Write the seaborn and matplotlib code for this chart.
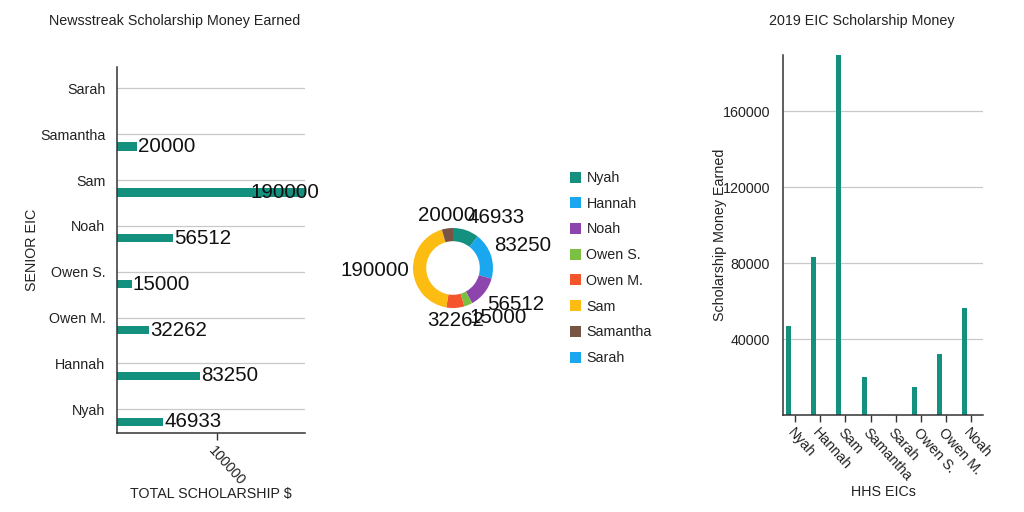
import matplotlib
matplotlib.use('Agg')
import matplotlib.pyplot as plt
import seaborn as sns
import numpy as np
import pandas as pd

sns.set_theme(style='white')
plt.rcParams['font.family'] = ['Liberation Sans', 'DejaVu Sans']

# ---------------- data ----------------
left_names = ['Sarah', 'Samantha', 'Sam', 'Noah', 'Owen S.', 'Owen M.', 'Hannah', 'Nyah']
left_values = [0, 20000, 190000, 56512, 15000, 32262, 83250, 46933]

donut_names = ['Nyah', 'Hannah', 'Noah', 'Owen S.', 'Owen M.', 'Sam', 'Samantha', 'Sarah']
donut_values = [46933, 83250, 56512, 15000, 32262, 190000, 20000, 0]
donut_colors = ['#14917e', '#1aa7ef', '#8e44ad', '#7ac143', '#f4552a', '#fcbc12', '#785444', '#1aa7ef']

right_names = ['Nyah', 'Hannah', 'Sam', 'Samantha', 'Sarah', 'Owen S.', 'Owen M.', 'Noah']
right_values = [46933, 83250, 190000, 20000, 0, 15000, 32262, 56512]

teal = '#14917e'
txt = '#222222'
spine_c = '#333333'
grid_c = '#c9c9c9'
small = 10.3
big = 14.8

W, H = 1024, 512
fig = plt.figure(figsize=(W / 100, H / 100), dpi=100)


def rect(l, t, r, b):
    return [l / W, 1 - b / H, (r - l) / W, (b - t) / H]


# ---------------- left horizontal bar chart ----------------
ax1 = fig.add_axes(rect(116.5, 66.7, 305, 432.7))
df1 = pd.DataFrame({'name': left_names, 'value': left_values})
sns.barplot(data=df1, y='name', x='value', orient='h', color=teal, width=0.18,
            saturation=1, linewidth=0, ax=ax1)
xmax = 188500
ax1.set_xlim(0, xmax)
ax1.set_ylim(7.24, -0.743)
pos = np.arange(len(left_names))
ax1.set_yticks(pos - 0.27, left_names)
ax1.set_xticks([100000], ['100000'])
ax1.grid(axis='y', color=grid_c, lw=0.9)
ax1.grid(axis='x', visible=False)
ax1.set_axisbelow(True)
for s in ['top', 'right']:
    ax1.spines[s].set_visible(False)
for s in ['left', 'bottom']:
    ax1.spines[s].set_color(spine_c)
    ax1.spines[s].set_linewidth(1.1)
ax1.tick_params(axis='y', length=0, pad=8, labelsize=small, labelcolor=txt)
ax1.tick_params(axis='x', length=5, width=1, color=spine_c, direction='out',
                pad=3, labelsize=small, labelcolor=txt, bottom=True)
for lab in ax1.get_xticklabels():
    lab.set_rotation(-48)
    lab.set_ha('left')
    lab.set_va('top')
    lab.set_rotation_mode('anchor')
vlabels = ax1.bar_label(ax1.containers[0], labels=[str(v) if v else '' for v in left_values],
                        padding=1, fontsize=big, color='#111111')
for t, v in zip(vlabels, left_values):
    t.set_annotation_clip(False)
    t.set_clip_on(False)
    if v > xmax:
        # label pulled back so it overlaps the end of the bar, as in the reference
        t.set_ha('right')
        t.xyann = (9, 0)
ax1.set_xlabel('TOTAL SCHOLARSHIP $', fontsize=small, color=txt, va='center')
ax1.xaxis.set_label_coords(0.5, -(494 - 432.7) / 366)
ax1.set_ylabel('SENIOR EIC', fontsize=small, color=txt, va='center', ha='center')
ax1.yaxis.set_label_coords(-(116.5 - 32) / 188.5, 0.5)
fig.text(175 / W, 1 - 21 / H, 'Newsstreak Scholarship Money Earned',
         ha='center', va='center', fontsize=small, color=txt)

# ---------------- donut ----------------
ax2 = fig.add_axes(rect(353, 168, 553, 368))
wedges, texts = ax2.pie(donut_values, colors=donut_colors, startangle=90, counterclock=False,
                        labels=[str(v) if v else '' for v in donut_values], labeldistance=1.08,
                        wedgeprops=dict(width=0.33, edgecolor='none', linewidth=0),
                        textprops=dict(fontsize=big, color='#111111'))
for w, t in zip(wedges, texts):
    ang = np.deg2rad((w.theta1 + w.theta2) / 2)
    x, y = np.cos(ang), np.sin(ang)
    t.set_ha('center' if abs(x) < 0.3 else ('left' if x > 0 else 'right'))
    t.set_va('bottom' if y > 0.3 else ('top' if y < -0.3 else 'center'))
ax2.set_xlim(-2.5, 2.5)
ax2.set_ylim(-2.5, 2.5)
ax2.set_aspect('equal')
ax2.axis('off')
ax2.legend(wedges, donut_names, loc='upper left', bbox_to_anchor=(570 / W, 1 - 171 / H),
           bbox_transform=fig.transFigure, frameon=False, fontsize=small,
           handlelength=0.8, handleheight=0.8, handletextpad=0.35, labelspacing=0.82,
           borderpad=0, borderaxespad=0, labelcolor=txt)

# ---------------- right vertical bar chart ----------------
ax3 = fig.add_axes(rect(782.7, 55, 983.3, 415))
df3 = pd.DataFrame({'name': right_names, 'value': right_values})
sns.barplot(data=df3, x='name', y='value', color=teal, width=0.2, saturation=1,
            linewidth=0, ax=ax3)
ax3.set_xlim(-0.23, 7.73)
ax3.set_ylim(0, 189500)
ax3.set_yticks([40000, 80000, 120000, 160000], ['40000', '80000', '120000', '160000'])
ax3.set_xticks(np.arange(len(right_names)) + 0.26, right_names)
ax3.grid(axis='y', color=grid_c, lw=0.9)
ax3.grid(axis='x', visible=False)
ax3.set_axisbelow(True)
for s in ['top', 'right']:
    ax3.spines[s].set_visible(False)
for s in ['left', 'bottom']:
    ax3.spines[s].set_color(spine_c)
    ax3.spines[s].set_linewidth(1.1)
ax3.tick_params(axis='y', length=0, pad=9, labelsize=small, labelcolor=txt)
ax3.tick_params(axis='x', length=5, width=1, color=spine_c, direction='out',
                pad=3, labelsize=small, labelcolor=txt, bottom=True)
for lab in ax3.get_xticklabels():
    lab.set_rotation(-48)
    lab.set_ha('left')
    lab.set_va('top')
    lab.set_rotation_mode('anchor')
ax3.set_xlabel('HHS EICs', fontsize=small, color=txt, va='center')
ax3.xaxis.set_label_coords(0.5, -(492 - 415) / 360)
ax3.set_ylabel('Scholarship Money Earned', fontsize=small, color=txt, va='center', ha='center')
ax3.yaxis.set_label_coords(-(782.7 - 720) / 200.6, 0.5)
fig.text(862 / W, 1 - 21 / H, '2019 EIC Scholarship Money',
         ha='center', va='center', fontsize=small, color=txt)

fig.savefig('out.png', dpi=100, facecolor='white')
